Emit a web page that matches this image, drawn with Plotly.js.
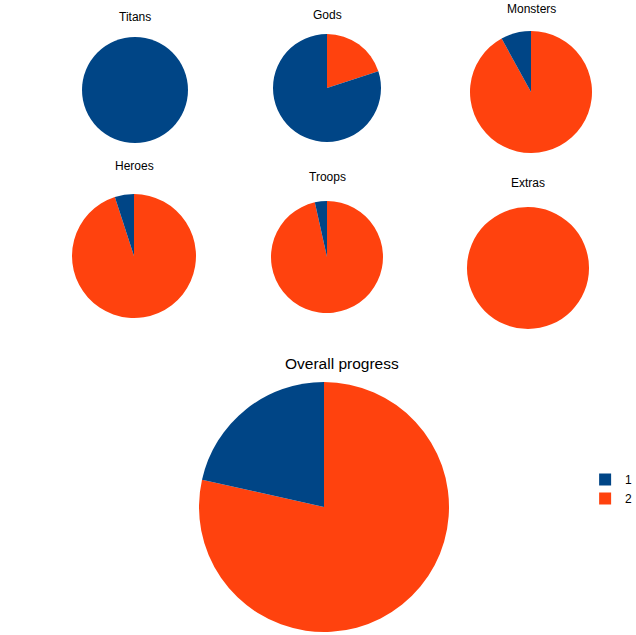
<!DOCTYPE html>
<html>
<head>
<meta charset="utf-8">
<script src="https://cdn.plot.ly/plotly-3.0.1.min.js"></script>
<style>html,body{margin:0;padding:0;background:#fff;}#chart{width:636px;height:635px;}</style>
</head>
<body>
<div id="chart"></div>
<script>
const categories = ['Titans', 'Gods', 'Monsters', 'Heroes', 'Troops', 'Extras', 'Overall progress'];
const sliceLabels = ['1', '2'];
const series1 = [100, 80, 8, 5, 3.5, 0, 21.5];
const series2 = [0, 20, 92, 95, 96.5, 100, 78.5];
const colors = ['#004586', '#ff420e'];

// layout geometry (pixels): centre x, centre y, radius, title x, title y, title size
const geom = [
  [135, 90, 53, 135, 17, 12],
  [327, 88, 54, 327, 15, 12],
  [531, 92, 61, 531, 9, 12],
  [134, 256, 62, 134, 166, 12],
  [327, 257, 56, 327, 177, 12],
  [528, 268, 61, 528, 183, 12],
  [324, 507, 125, 342, 363, 15.5]
];
const W = 636, H = 635;
const FONT = '"Liberation Sans", Arial, sans-serif';

// slices listed as series 2 then series 1 so that series 1 sits counter-clockwise of 12 o'clock
const traces = categories.map((c, i) => {
  const [cx, cy, r] = geom[i];
  return {
    type: 'pie',
    name: c,
    labels: [sliceLabels[1], sliceLabels[0]],
    values: [series2[i], series1[i]],
    sort: false,
    direction: 'clockwise',
    rotation: 0,
    textinfo: 'none',
    hoverinfo: 'label+value',
    marker: {colors: [colors[1], colors[0]], line: {width: 0}},
    domain: {x: [(cx - r) / W, (cx + r) / W], y: [1 - (cy + r) / H, 1 - (cy - r) / H]},
    showlegend: true
  };
});

const annotations = categories.map((c, i) => {
  const g = geom[i];
  return {
    text: c, xref: 'paper', yref: 'paper',
    x: g[3] / W, y: 1 - g[4] / H, xanchor: 'center', yanchor: 'middle',
    showarrow: false,
    font: {family: FONT, size: g[5], color: '#000'}
  };
});

const layout = {
  width: W, height: H,
  margin: {l: 0, r: 0, t: 0, b: 0, autoexpand: false},
  paper_bgcolor: '#fff',
  showlegend: true,
  legend: {x: 0.92, y: 1 - 465 / H, xanchor: 'left', yanchor: 'top',
    itemwidth: 30, traceorder: 'reversed',
    font: {family: FONT, size: 12, color: '#000'},
    bgcolor: 'rgba(0,0,0,0)'},
  annotations: annotations
};

Plotly.newPlot('chart', traces, layout, {displayModeBar: false, staticPlot: true});
</script>
</body>
</html>
